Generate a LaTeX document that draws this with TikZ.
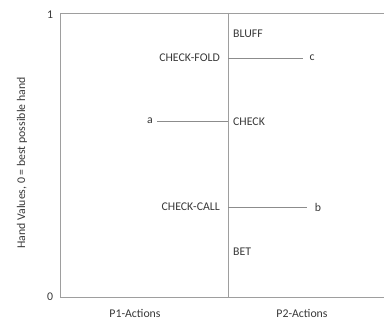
\documentclass[tikz,border=0pt]{standalone}
\usepackage{fontspec}
\setmainfont{Carlito}
\usetikzlibrary{calc}
\begin{document}
\begin{tikzpicture}[x=1pt,y=-1pt,
  axis/.style={draw=black!38,line width=0.9pt},
  conn/.style={draw=black!45,line width=0.7pt},
  lbl/.style={text=black!78,font=\fontsize{11.8}{13}\selectfont,inner sep=0pt}]
\useasboundingbox (0,0) rectangle (384,320);
% frame
\coordinate (TL) at (60,13);
\coordinate (TR) at (384,13);
\coordinate (BL) at (60,297);
\coordinate (BR) at (384,297);
\coordinate (DT) at (228,13);
\coordinate (DB) at (228,297);
\draw[axis] (TR) -- (TL) -- (BL) -- (BR);
\draw[axis] (DT) -- (DB);
% axis labels
\node[lbl] (one) at (50,15) {1};
\node[lbl] (zero) at (50,297) {0};
\node[lbl] (p1) at (135,313) {P1-Actions};
\node[lbl] (p2) at (302,313) {P2-Actions};
\node[lbl,rotate=90] (ylab) at (22,163) {Hand Values, 0 = best possible hand};
% P1 actions
\node[lbl,anchor=east] (cf) at (220,58) {CHECK-FOLD};
\node[lbl,anchor=east] (cc) at (220,207) {CHECK-CALL};
% P2 actions
\node[lbl,anchor=west] (bluff) at (233,34) {BLUFF};
\node[lbl,anchor=west] (check) at (233,122) {CHECK};
\node[lbl,anchor=west] (bet) at (233,252) {BET};
% thresholds
\node[lbl] (a) at (150,121) {a};
\node[lbl] (c) at (312,58) {c};
\node[lbl] (b) at (318,207) {b};
\coordinate (ca) at (228,121);
\coordinate (cc0) at (228,58);
\coordinate (cb0) at (228,207);
\draw[conn] ($(a.east |- ca)+(4,0)$) -- (ca);
\draw[conn] (cc0) -- ($(cc0 -| c.west)+(-6,0)$);
\draw[conn] (cb0) -- ($(cb0 -| b.west)+(-8,0)$);
\end{tikzpicture}
\end{document}
